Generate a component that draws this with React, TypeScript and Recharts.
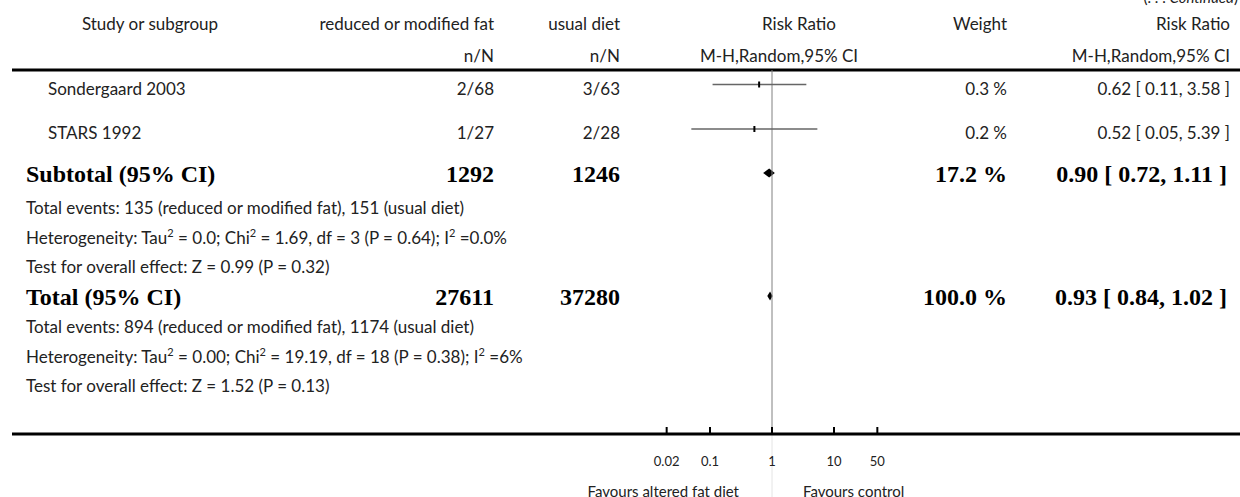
import React from 'react';
import { ComposedChart, XAxis, YAxis, Scatter, ReferenceLine, ReferenceArea } from 'recharts';

// individual studies shown on this page of the forest plot
const STUDY_NAMES = ['Sondergaard 2003', 'STARS 1992'];
const STUDY_EXP = ['2/68', '1/27'];
const STUDY_CTRL = ['3/63', '2/28'];
const STUDY_WEIGHT = [0.3, 0.2];
const STUDY_RR = [0.62, 0.52];
const STUDY_LO = [0.11, 0.05];
const STUDY_HI = [3.58, 5.39];

// pooled rows (subtotal, total)
const POOLED_NAMES = ['Subtotal (95% CI)', 'Total (95% CI)'];
const POOLED_EXP = [1292, 27611];
const POOLED_CTRL = [1246, 37280];
const POOLED_WEIGHT = [17.2, 100.0];
const POOLED_RR = [0.9, 0.93];
const POOLED_LO = [0.72, 0.84];
const POOLED_HI = [1.11, 1.02];

const SUBTOTAL_NOTES = [
  'Total events: 135 (reduced or modified fat), 151 (usual diet)',
  'Heterogeneity: Tau^2 = 0.0; Chi^2 = 1.69, df = 3 (P = 0.64); I^2 =0.0%',
  'Test for overall effect: Z = 0.99 (P = 0.32)',
];
const TOTAL_NOTES = [
  'Total events: 894 (reduced or modified fat), 1174 (usual diet)',
  'Heterogeneity: Tau^2 = 0.00; Chi^2 = 19.19, df = 18 (P = 0.38); I^2 =6%',
  'Test for overall effect: Z = 1.52 (P = 0.13)',
];

const X_TICKS = [0.02, 0.1, 1, 10, 50];

// layout
const W = 1240;
const H = 497;
const PLOT_TOP = 70;
const PLOT_BOTTOM = 434;
const PLOT_LEFT = 12;
const NULL_X = 772;
const PX_PER_DECADE = 62;
const X_DOMAIN = [
  Math.pow(10, -(NULL_X - PLOT_LEFT) / PX_PER_DECADE),
  Math.pow(10, (W - NULL_X) / PX_PER_DECADE),
];
const STUDY_Y = [84.5, 129];
const STUDY_TEXT_Y = [89, 133];
const POOLED_Y = [173, 296];
const SUB_NOTE_Y = [208, 238, 267];
const TOT_NOTE_Y = [327, 357, 386];
const HEAD_Y = [24, 56];
const TEXT_LEFT = 26;
const COL_EXP = 494;
const COL_CTRL = 620;
const COL_WEIGHT = 1007;
const COL_RR = 1230;

const SANS = "Lato, 'Open Sans', sans-serif";
const SERIF = "'Liberation Serif', 'Times New Roman', serif";
const INK = '#222';

const studyPoints = STUDY_RR.map((rr, i) => ({ rr, row: STUDY_Y[i] - PLOT_TOP, w: STUDY_WEIGHT[i] }));

const fmtCI = (rr: number, lo: number, hi: number) =>
  `${rr.toFixed(2)} [ ${lo.toFixed(2)}, ${hi.toFixed(2)} ]`;

const withSup = (s: string) => {
  const parts = s.split('^2');
  return parts.map((p, i) => (
    <React.Fragment key={i}>
      {p}
      {i < parts.length - 1 && <sup style={{ fontSize: 11, lineHeight: 0 }}>2</sup>}
    </React.Fragment>
  ));
};

type TxtProps = { x: number; y: number; align?: 'left' | 'right' | 'center'; bold?: boolean; size?: number; children: React.ReactNode };
const Txt = ({ x, y, align = 'left', bold, size, children }: TxtProps) => {
  const style: React.CSSProperties = {
    position: 'absolute',
    top: y - 14,
    height: 28,
    lineHeight: '28px',
    whiteSpace: 'nowrap',
    fontFamily: bold ? SERIF : SANS,
    fontWeight: bold ? 700 : 400,
    fontSize: size ?? (bold ? 24 : 17),
    color: bold ? '#000' : INK,
  };
  if (align === 'left') style.left = x;
  else if (align === 'right') style.right = W - x;
  else { style.left = x; style.transform = 'translateX(-50%)'; }
  return <div style={style}>{children}</div>;
};

const AxisTick = (props: any) => {
  const { x, y, payload } = props;
  return (
    <g>
      <line x1={x} x2={x} y1={y - 7} y2={y} stroke="#000" strokeWidth={2} />
      <text x={x} y={y + 32} textAnchor="middle" fontFamily={SANS} fontSize={13} fill={INK}>
        {String(payload.value)}
      </text>
    </g>
  );
};

const WeightBox = (props: any) => {
  const { cx, cy } = props;
  return <rect x={cx - 1} y={cy - 3} width={2} height={6} fill="#000" />;
};

const makeDiamond = (rr: number, lo: number, hi: number) => (p: any) => {
  const { x, y, width, height } = p;
  const frac = (Math.log(rr) - Math.log(lo)) / (Math.log(hi) - Math.log(lo));
  const xe = x + width * frac;
  const pts = `${x},${y + height / 2} ${xe},${y} ${x + width},${y + height / 2} ${xe},${y + height}`;
  return <polygon points={pts} fill="#000" />;
};

export default function App() {
  return (
    <div style={{ position: 'absolute', left: 0, top: 0, width: W, height: H, background: '#fff', overflow: 'hidden' }}>
      <ComposedChart
        width={W}
        height={H}
        data={studyPoints}
        margin={{ top: PLOT_TOP, right: 0, bottom: 0, left: PLOT_LEFT }}
      >
        <XAxis
          dataKey="rr"
          type="number"
          scale="log"
          domain={X_DOMAIN}
          allowDataOverflow
          ticks={X_TICKS}
          interval={0}
          height={H - PLOT_BOTTOM}
          axisLine={{ stroke: '#000', strokeWidth: 3 }}
          tickLine={false}
          tickSize={0}
          tickMargin={0}
          tick={<AxisTick />}
        />
        <YAxis dataKey="row" type="number" domain={[0, PLOT_BOTTOM - PLOT_TOP]} reversed hide width={0} />
        <ReferenceLine y={0} stroke="#000" strokeWidth={3} />
        <ReferenceLine x={1} stroke="#808080" strokeWidth={1} />
        <ReferenceLine
          segment={[{ x: 1, y: PLOT_BOTTOM - PLOT_TOP }, { x: 1, y: H - PLOT_TOP }]}
          ifOverflow="visible"
          stroke="#e4e4e4"
          strokeWidth={1}
        />
        {STUDY_RR.map((rr, i) => (
          <ReferenceLine
            key={`ci${i}`}
            segment={[{ x: STUDY_LO[i], y: STUDY_Y[i] - PLOT_TOP }, { x: STUDY_HI[i], y: STUDY_Y[i] - PLOT_TOP }]}
            stroke="#666"
            strokeWidth={1.5}
          />
        ))}
        {POOLED_RR.map((rr, i) => (
          <ReferenceArea
            key={`d${i}`}
            x1={POOLED_LO[i]}
            x2={POOLED_HI[i]}
            y1={POOLED_Y[i] - PLOT_TOP - 4.5}
            y2={POOLED_Y[i] - PLOT_TOP + 4.5}
            shape={makeDiamond(rr, POOLED_LO[i], POOLED_HI[i])}
          />
        ))}
        <Scatter dataKey="row" isAnimationActive={false} shape={<WeightBox />} />
      </ComposedChart>

      {/* header */}
      <div style={{ position: 'absolute', right: 2, top: -12, fontFamily: SANS, fontSize: 15, color: INK, whiteSpace: 'nowrap' }}>
        (. . . <i>Continued</i>)
      </div>
      <Txt x={150} y={HEAD_Y[0]} align="center">Study or subgroup</Txt>
      <Txt x={COL_EXP} y={HEAD_Y[0]} align="right">reduced or modified fat</Txt>
      <Txt x={COL_CTRL} y={HEAD_Y[0]} align="right">usual diet</Txt>
      <Txt x={799} y={HEAD_Y[0]} align="center">Risk Ratio</Txt>
      <Txt x={COL_WEIGHT} y={HEAD_Y[0]} align="right">Weight</Txt>
      <Txt x={COL_RR} y={HEAD_Y[0]} align="right">Risk Ratio</Txt>
      <Txt x={COL_EXP} y={HEAD_Y[1]} align="right">n/N</Txt>
      <Txt x={COL_CTRL} y={HEAD_Y[1]} align="right">n/N</Txt>
      <Txt x={779} y={HEAD_Y[1]} align="center">M-H,Random,95% CI</Txt>
      <Txt x={COL_RR} y={HEAD_Y[1]} align="right">M-H,Random,95% CI</Txt>

      {/* studies */}
      {STUDY_NAMES.map((name, i) => (
        <React.Fragment key={name}>
          <Txt x={48} y={STUDY_TEXT_Y[i]}>{name}</Txt>
          <Txt x={COL_EXP} y={STUDY_TEXT_Y[i]} align="right">{STUDY_EXP[i]}</Txt>
          <Txt x={COL_CTRL} y={STUDY_TEXT_Y[i]} align="right">{STUDY_CTRL[i]}</Txt>
          <Txt x={COL_WEIGHT} y={STUDY_TEXT_Y[i]} align="right">{`${STUDY_WEIGHT[i].toFixed(1)} %`}</Txt>
          <Txt x={COL_RR} y={STUDY_TEXT_Y[i]} align="right">{fmtCI(STUDY_RR[i], STUDY_LO[i], STUDY_HI[i])}</Txt>
        </React.Fragment>
      ))}

      {/* pooled */}
      {POOLED_NAMES.map((name, i) => (
        <React.Fragment key={name}>
          <Txt x={TEXT_LEFT} y={POOLED_Y[i] + 1} bold>{name}</Txt>
          <Txt x={COL_EXP} y={POOLED_Y[i] + 1} align="right" bold>{POOLED_EXP[i]}</Txt>
          <Txt x={COL_CTRL} y={POOLED_Y[i] + 1} align="right" bold>{POOLED_CTRL[i]}</Txt>
          <Txt x={COL_WEIGHT} y={POOLED_Y[i] + 1} align="right" bold>{`${POOLED_WEIGHT[i].toFixed(1)} %`}</Txt>
          <Txt x={COL_RR - 3} y={POOLED_Y[i] + 1} align="right" bold>{fmtCI(POOLED_RR[i], POOLED_LO[i], POOLED_HI[i])}</Txt>
        </React.Fragment>
      ))}

      {SUBTOTAL_NOTES.map((s, i) => (
        <Txt key={`s${i}`} x={TEXT_LEFT} y={SUB_NOTE_Y[i]}>{withSup(s)}</Txt>
      ))}
      {TOTAL_NOTES.map((s, i) => (
        <Txt key={`t${i}`} x={TEXT_LEFT} y={TOT_NOTE_Y[i]}>{withSup(s)}</Txt>
      ))}

      <Txt x={739} y={491} align="right" size={15}>Favours altered fat diet</Txt>
      <Txt x={803} y={491} size={15}>Favours control</Txt>
    </div>
  );
}
